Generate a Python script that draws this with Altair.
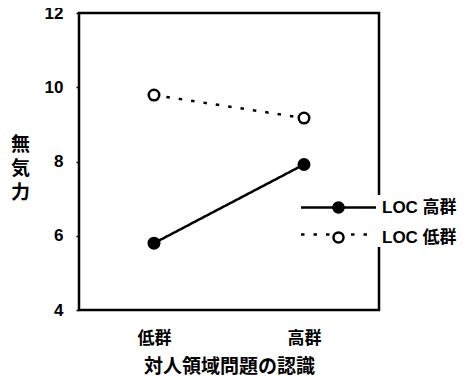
import altair as alt
import pandas as pd

categories = ["低群", "高群"]
groups = ["LOC 高群", "LOC 低群"]
loc_high = [5.8, 7.92]
loc_low = [9.79, 9.17]

# second copy of the group names (trailing space) so the line legend stays separate
groups_line = [g + " " for g in groups]

rows = []
for g, g2, vals in zip(groups, groups_line, [loc_high, loc_low]):
    for c, v in zip(categories, vals):
        rows.append({"cat": c, "grp": g, "grp2": g2, "val": v})
df = pd.DataFrame(rows)

FONT = "Liberation Sans, Noto Sans CJK JP, sans-serif"

x = alt.X("cat:N", sort=categories,
          scale=alt.Scale(type="point", padding=0.5),
          axis=alt.Axis(title="対人領域問題の認識", labelAngle=0, ticks=False, domain=False,
                        labelPadding=20, titlePadding=11))
y = alt.Y("val:Q", scale=alt.Scale(domain=[4, 12], nice=False, zero=False),
          axis=alt.Axis(title=["無", "気", "力"], values=[4, 6, 8, 10, 12], grid=False, domain=False,
                        tickSize=3, tickWidth=1.5, tickColor="black", labelPadding=13,
                        titleAngle=0, titleX=-59, titleY=131, titleAlign="center",
                        titleBaseline="middle", titleLineHeight=24))

common = dict(title=None, orient="none", legendX=247, legendY=182, symbolSize=100,
              symbolStrokeColor="black", symbolStrokeWidth=2.5, symbolOpacity=1,
              labelFont=FONT, labelFontSize=17, labelFontWeight="bold",
              labelOffset=35, rowPadding=9, padding=4)

lines = alt.Chart(df).mark_line(color="black", strokeWidth=2.5, strokeCap="butt").encode(
    x=x, y=y,
    strokeDash=alt.StrokeDash("grp2:N", scale=alt.Scale(domain=groups_line, range=[[1, 0], [3.5, 9]]),
                              legend=alt.Legend(symbolType="M-7.5,0L7.5,0", labelColor="transparent",
                                                fillColor="white", zindex=1, **common)),
)

points = alt.Chart(df).mark_point(shape="circle", filled=True, stroke="black", strokeWidth=2.5,
                                  size=110, opacity=1).encode(
    x=x, y=y,
    fill=alt.Fill("grp:N", scale=alt.Scale(domain=groups, range=["black", "white"]),
                  legend=alt.Legend(symbolType="circle", labelColor="black", zindex=2, **common)),
)

chart = alt.layer(lines, points).properties(
    width=300, height=297,
    autosize=alt.AutoSizeParams(type="none"),
    padding={"left": 71, "top": 5, "right": 81, "bottom": 70},
).configure(background="white").configure_view(stroke="black", strokeWidth=2.5).configure_axis(
    labelFont=FONT, labelFontSize=17, labelFontWeight="bold", labelColor="black",
    titleFont=FONT, titleFontSize=19, titleFontWeight="bold", titleColor="black",
)

chart.save("out.html", embed_options={"renderer": "svg", "actions": False})
